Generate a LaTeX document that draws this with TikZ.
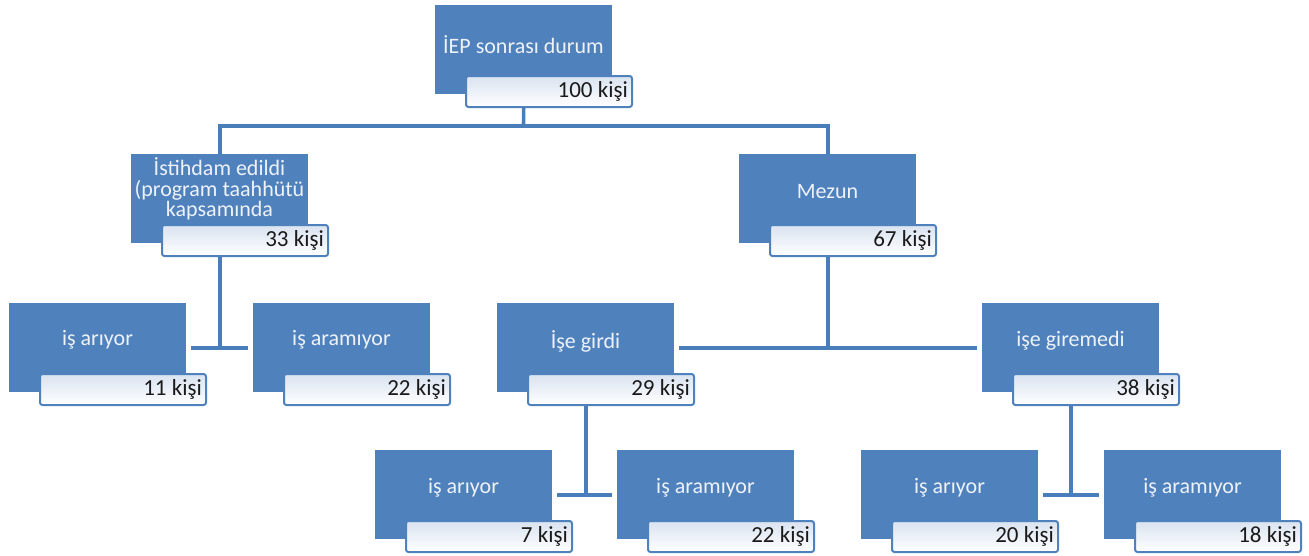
\documentclass[tikz,border=0pt]{standalone}
\usepackage{fontspec}
\setmainfont{Carlito}
\definecolor{boxblue}{HTML}{4F81BD}
\definecolor{lineblue}{HTML}{4A7EBB}
\definecolor{lbltxt}{HTML}{EEF2F9}
\definecolor{tbtop}{HTML}{D9E3F0}
\definecolor{cnttxt}{HTML}{1A1A1A}
\tikzset{
  bluebox/.style={fill=boxblue, draw=none, minimum width=177pt, minimum height=89pt, inner sep=0pt, anchor=north west},
  cntbox/.style={draw=boxblue, line width=2pt, rounded corners=2.5pt, top color=tbtop, bottom color=white, minimum width=166pt, minimum height=31pt, inner sep=0pt, anchor=north west},
  lbl/.style={text=lbltxt, font=\fontsize{22}{20.5}\selectfont, align=center, inner sep=0pt},
  cnt/.style={text=cnttxt, font=\fontsize{23}{24}\selectfont, inner sep=0pt, anchor=east},
  conn/.style={draw=lineblue, line width=3.6pt}
}
% name, x, y (top-left of blue box), label, count, label y offset
\newcommand\orgbox[6]{%
  \node[bluebox] (#1) at (#2,#3) {};
  \node[cntbox] (#1-c) at (#2+30,#3+70) {};
  \node[cnt] (#1-n) at ([xshift=-5pt]#1-c.east) {#5};
  \node[lbl] (#1-t) at (#2+88.5,#3+#6) {#4};
}
\begin{document}
\begin{tikzpicture}[x=1pt,y=-1pt]
\useasboundingbox (0,0) rectangle (1309,555);
\orgbox{iep}{435}{5}{İEP sonrası durum}{100 kişi}{40}
\orgbox{ist}{131}{154}{İstihdam edildi\\(program taahhütü\\kapsamında}{33 kişi}{35}
\orgbox{mez}{739}{154}{Mezun}{67 kişi}{38}
\orgbox{a1}{9}{303}{iş arıyor}{11 kişi}{37}
\orgbox{m1}{253}{303}{iş aramıyor}{22 kişi}{37}
\orgbox{ise}{497}{303}{İşe girdi}{29 kişi}{38}
\orgbox{gir}{982}{303}{işe giremedi}{38 kişi}{38}
\orgbox{a2}{375}{450}{iş arıyor}{7 kişi}{38}
\orgbox{m2}{617}{450}{iş aramıyor}{22 kişi}{38}
\orgbox{a3}{861}{450}{iş arıyor}{20 kişi}{38}
\orgbox{m3}{1104}{450}{iş aramıyor}{18 kişi}{38}
% connectors
\coordinate (j0) at (523.5,126);
\draw[conn] (iep.south |- iep-c.south) -- (j0);
\draw[conn] (ist.north) |- (j0) -| (mez.north);
\draw[conn] (ist.south |- ist-c.south) -- (ist.south |- a1.east);
\draw[conn] ([xshift=5pt]a1.east) -- ([xshift=-5pt]m1.west);
\draw[conn] (mez.south |- mez-c.south) -- (mez.south |- ise.east);
\draw[conn] ([xshift=5pt]ise.east) -- ([xshift=-5pt]gir.west);
\draw[conn] (ise.south |- ise-c.south) -- (ise.south |- a2.east);
\draw[conn] ([xshift=5pt]a2.east) -- ([xshift=-5pt]m2.west);
\draw[conn] (gir.south |- gir-c.south) -- (gir.south |- a3.east);
\draw[conn] ([xshift=5pt]a3.east) -- ([xshift=-5pt]m3.west);
\end{tikzpicture}
\end{document}
